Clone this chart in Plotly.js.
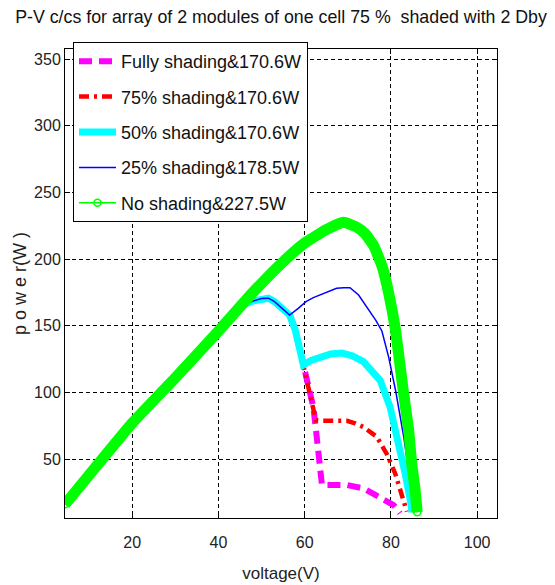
<!DOCTYPE html>
<html>
<head>
<meta charset="utf-8">
<script src="https://cdn.plot.ly/plotly-3.0.1.min.js"></script>
<style>html,body{margin:0;padding:0;background:#fff;}#chart{width:555px;height:585px;}</style>
</head>
<body>
<div id="chart"></div>
<script>
// ---- data (voltage in V, power in W) ----
const seriesNames = ["Fully shading&170.6W", "75% shading&170.6W", "50% shading&170.6W", "25% shading&178.5W", "No shading&227.5W"];

const vFull = [4.4, 10, 20, 30, 40, 46, 48, 50, 51.6, 53, 54.3, 55.5, 56.5, 57.8, 58.9, 59.7, 60.9, 62, 62.6, 63.4, 64, 66, 69.8, 73.6, 77.5, 80.6, 82.1];
const pFull = [16, 38, 77, 111, 146, 166, 168.5, 170.3, 170.6, 168, 164, 161, 158, 146.7, 131.8, 120.5, 101.8, 89, 72, 45, 30.5, 30.5, 30.5, 28, 21.7, 15.5, 9.3];

const v75 = [4.4, 10, 20, 30, 40, 46, 48, 50, 51.6, 53, 54.3, 55.5, 56.5, 57.8, 58.9, 59.7, 60.9, 62, 62.6, 63.5, 65.9, 69.8, 71.5, 73.6, 76.7, 79, 81, 82.5, 83.7];
const p75 = [16, 38, 77, 111, 146, 166, 168.5, 170.3, 170.6, 168, 164, 161, 158, 146.7, 131.8, 120.5, 101.8, 89, 79, 78.7, 78.7, 78.7, 77, 74, 66.7, 54, 39, 24, 10.5];

const v50 = [4.4, 10, 20, 30, 40, 46, 48, 50, 51.6, 53, 54.3, 55.5, 56.5, 57.8, 58.9, 59.7, 61.5, 63.6, 66, 68.6, 71, 73.6, 75.5, 77.5, 79.8, 81.7, 83.3, 84.5, 84.9];
const p50 = [16, 38, 77, 111, 146, 166, 168.5, 170.3, 170.6, 168, 164, 161, 158, 146.7, 131.8, 120.5, 124, 126.7, 128.8, 129.5, 127.5, 123, 117, 109, 89, 64, 39, 19, 10];

const v25 = [4.4, 10, 20, 30, 40, 46, 48, 50, 51.6, 53, 54.3, 55.5, 56.5, 58.5, 60.3, 62, 64, 66, 67.4, 69, 70.5, 72.5, 74.6, 76.5, 77.9, 79.5, 81.1, 83, 84.6, 85.3];
const p25 = [16, 38, 77, 111, 146, 166, 168.5, 170.3, 170.6, 168, 164, 161, 158, 163, 168, 171, 173.5, 176, 178, 178.5, 178.5, 173, 163.5, 154, 146, 126, 101, 66, 30, 9.5];

const vNone = [4.4, 10, 20, 30, 40, 48, 55, 60, 65, 69, 72, 74, 76, 78, 79.5, 81, 82.9, 84.1, 84.8, 85.6, 86.1];
const pNone = [16, 38, 77, 111, 146, 175, 198, 212, 222, 227.5, 224, 219, 210, 194, 174, 148, 100, 72, 47, 27, 10];

const xTicks = [20, 40, 60, 80, 100];
const yTicks = [50, 100, 150, 200, 250, 300, 350];

const FONT = "Liberation Sans, Arial, sans-serif";

const traces = [
  {x: vFull, y: pFull, name: seriesNames[0], legendgroup: "a", mode: "lines",
   line: {color: "#ff00ff", width: 6, dash: "13px,7px"}},
  {x: v75, y: p75, name: seriesNames[1], legendgroup: "b", mode: "lines",
   line: {color: "#ff0000", width: 4.5, dash: "10px,5px,3px,5px"}},
  {x: v50, y: p50, name: seriesNames[2], legendgroup: "c", mode: "lines",
   line: {color: "#00ffff", width: 7}},
  {x: v25, y: p25, name: seriesNames[3], legendgroup: "d", mode: "lines",
   line: {color: "#0000ff", width: 1.5}},
  {x: vNone, y: pNone, name: seriesNames[4], legendgroup: "e", mode: "lines", showlegend: false,
   line: {color: "#00ff00", width: 11, shape: "spline", smoothing: 0.4}, hoverinfo: "skip"},
  {x: vNone, y: pNone, name: seriesNames[4], legendgroup: "e", mode: "lines+markers",
   line: {color: "#00ff00", width: 1.5, shape: "spline", smoothing: 0.4},
   marker: {symbol: "circle-open", size: 7, color: "#00ff00", line: {width: 1.5}}}
];

const axisCommon = {
  showline: true, linecolor: "#000", linewidth: 1, mirror: "ticks",
  ticks: "inside", ticklen: 5, tickcolor: "#000",
  showgrid: true, gridcolor: "#000", gridwidth: 1, griddash: "4px,3px",
  zeroline: false,
  tickfont: {family: FONT, size: 16, color: "#222"}
};

const layout = {
  width: 555, height: 585,
  margin: {l: 65, r: 58, t: 49, b: 67},
  paper_bgcolor: "#fff", plot_bgcolor: "#fff",
  font: {family: FONT, color: "#111"},
  title: {text: "P-V c/cs for array of 2 modules of one cell 75 %\u00a0 shaded with 2 Dby",
          font: {family: FONT, size: 17.8, color: "#111"},
          x: 0.5, xanchor: "center", xref: "paper", y: 1 - 17/585, yanchor: "middle", yref: "container"},
  xaxis: Object.assign({}, axisCommon, {
    range: [4.4, 104.6], tickmode: "array", tickvals: xTicks, ticktext: xTicks.map(String),
    ticklabelstandoff: 10,
    title: {text: "voltage(V)", font: {family: FONT, size: 17, color: "#222"}, standoff: 16}
  }),
  yaxis: Object.assign({}, axisCommon, {
    range: [5.75, 357.5], tickmode: "array", tickvals: yTicks, ticktext: yTicks.map(String),
    title: {text: "p o w e r(W )", font: {family: FONT, size: 18, color: "#222"}, standoff: 2}
  }),
  legend: {
    x: 8/432, y: (518-42)/469, xanchor: "left", yanchor: "top",
    bgcolor: "#fff", bordercolor: "#000", borderwidth: 1,
    font: {family: FONT, size: 18, color: "#111"},
    itemwidth: 37,
    tracegroupgap: 9, traceorder: "grouped"
  },
  showlegend: true
};

Plotly.newPlot("chart", traces, layout, {staticPlot: true, displayModeBar: false});
</script>
</body>
</html>
